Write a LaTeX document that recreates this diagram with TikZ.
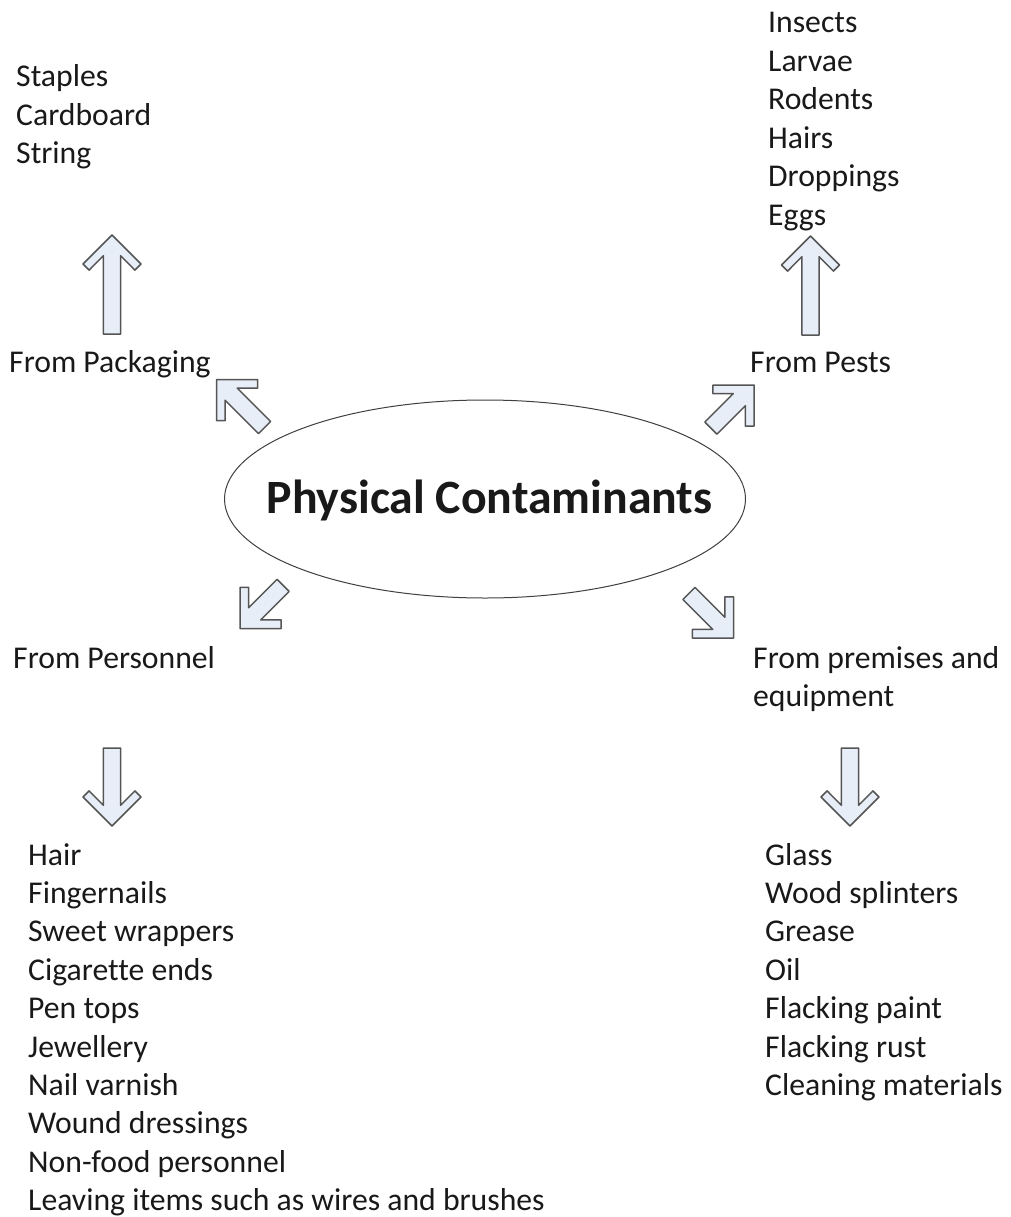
\documentclass[tikz,border=0pt]{standalone}
\usepackage{fontspec}
\setmainfont[Ligatures=NoCommon]{Carlito}
\usetikzlibrary{shapes.geometric}
\definecolor{arrowfill}{RGB}{232,238,248}
\definecolor{arrowline}{RGB}{85,85,85}
\definecolor{txt}{RGB}{25,25,25}
\begin{document}
\begin{tikzpicture}[x=1pt,y=-1pt,
  lbl/.style={anchor=base west, inner sep=0pt, font=\fontsize{31.7}{38.4}\selectfont, text=txt},
  blockarrow/.style={draw=arrowline, line width=1.5pt, fill=arrowfill, line join=round},
  pics/barrow/.style={code={
    \path[blockarrow] (0,0) -- (-29,-29) -- (-35.1,-22.9) -- (-20.7,-8.6) -- (-#1,-8.6)
      -- (-#1,8.6) -- (-20.7,8.6) -- (-35.1,22.9) -- (-29,29) -- cycle;
  }}
]
\fill[white] (0,0) rectangle (1011,1217);
\useasboundingbox (0,0) rectangle (1011,1217);

% central ellipse
\node[ellipse, draw=black!75, line width=1pt, minimum width=521pt, minimum height=198pt, inner sep=0pt] (core) at (485,499) {};
\node[anchor=base, inner sep=0pt, font=\fontsize{47.8}{56}\selectfont\bfseries, text=txt] (title) at (489.5,513) {Physical Contaminants};

% headings
\node[lbl] (hpack) at (9,372.5) {From Packaging};
\node[lbl] (hpest) at (750,372.5) {From Pests};
\node[lbl] (hpers) at (13,668) {From Personnel};
\node[lbl] (hprem1) at (753,668) {From premises and};
\node[lbl] (hprem2) at (753,706.4) {equipment};

% lists
\foreach \t [count=\i from 0] in {Staples,Cardboard,String}
  \node[lbl] (pk\i) at (16,87+38.4*\i) {\t};
\foreach \t [count=\i from 0] in {Insects,Larvae,Rodents,Hairs,Droppings,Eggs}
  \node[lbl] (ps\i) at (768,33+38.4*\i) {\t};
\foreach \t [count=\i from 0] in {Hair,Fingernails,Sweet wrappers,Cigarette ends,Pen tops,Jewellery,Nail varnish,Wound dressings,Non-food personnel,Leaving items such as wires and brushes}
  \node[lbl] (pr\i) at (28,865+38.4*\i) {\t};
\foreach \t [count=\i from 0] in {Glass,Wood splinters,Grease,Oil,Flacking paint,Flacking rust,Cleaning materials}
  \node[lbl] (pm\i) at (765,865+38.4*\i) {\t};

% arrow tips
\coordinate (tPack) at (112,235);
\coordinate (tPest) at (810.5,236);
\coordinate (tPers) at (112,826);
\coordinate (tPrem) at (850,826);
\coordinate (tNW) at (216.5,379.5);
\coordinate (tNE) at (754,385);
\coordinate (tSW) at (240,628.5);
\coordinate (tSE) at (733.5,638);

\pic[rotate=90] at (tPack) {barrow=99};
\pic[rotate=90] at (tPest) {barrow=99};
\pic[rotate=-90] at (tPers) {barrow=78};
\pic[rotate=-90] at (tPrem) {barrow=78};
\pic[rotate=135] at (tNW) {barrow=68};
\pic[rotate=45] at (tNE) {barrow=61};
\pic[rotate=-135] at (tSW) {barrow=61};
\pic[rotate=-45] at (tSE) {barrow=63};
\end{tikzpicture}
\end{document}
